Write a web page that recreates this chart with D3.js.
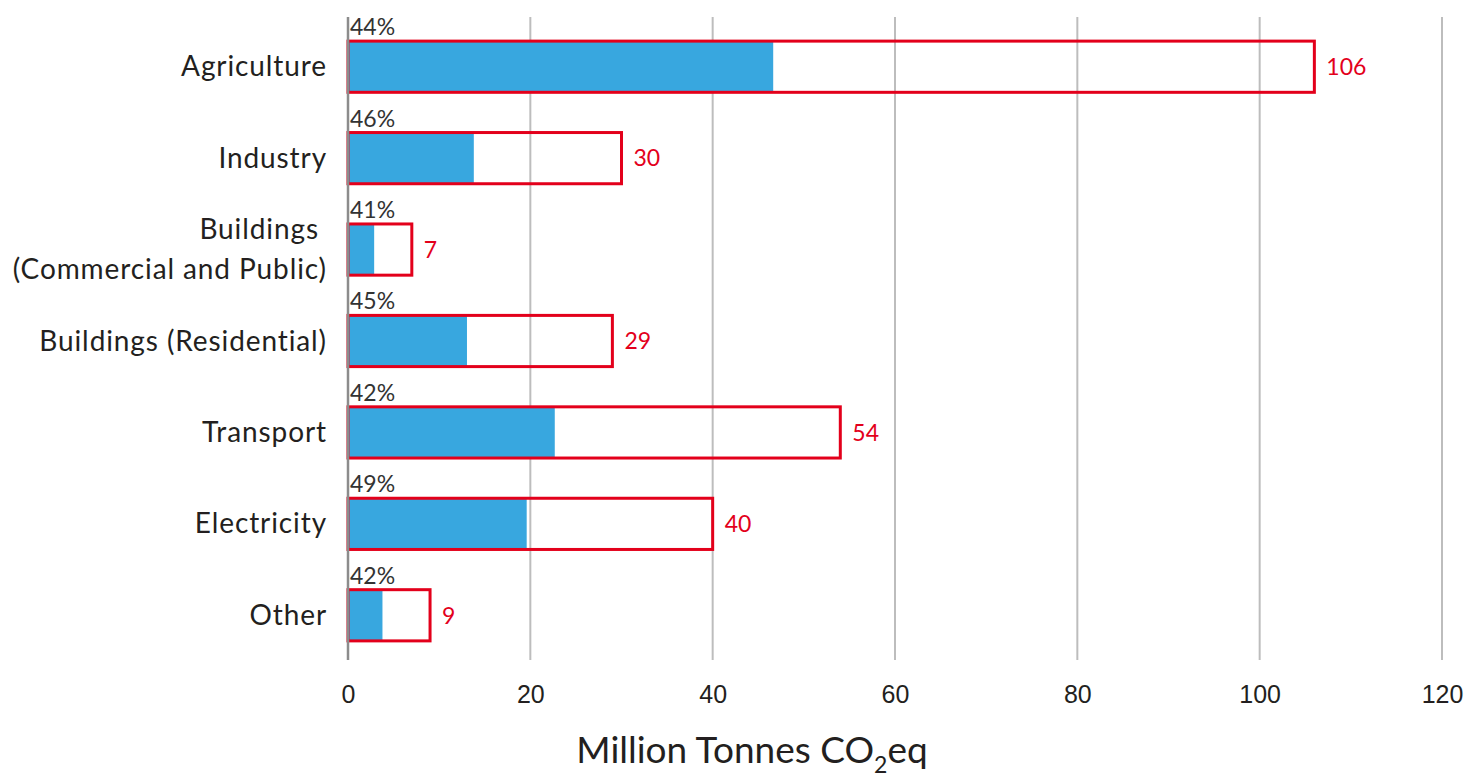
<!DOCTYPE html>
<html lang="en">
<head>
    <meta charset="utf-8">
    <title>Emissions by sector</title>
    <script src="https://d3js.org/d3.v7.min.js"></script>
    <style type="text/css">
        body{
            margin: 0;
            background: #fff;
        }
        svg{
            font-family: Lato, "Noto Sans", sans-serif;
        }
        .cat{
            font-size: 28px;
            letter-spacing: 0.9px;
            fill: #231f20;
        }
        .pct{
            font-size: 23px;
            fill: #333;
        }
        .val{
            font-size: 23px;
            fill: #e3001b;
        }
        .tick text{
            font-size: 25px;
            fill: #231f20;
        }
    </style>
</head>
<body>
    <svg id="chart" width="1471" height="777"></svg>

    <script type="text/javascript">

        const sectors = [["Agriculture"], ["Industry"], ["Buildings\u00a0", "(Commercial and Public)"],
                         ["Buildings (Residential)"], ["Transport"], ["Electricity"], ["Other"]]
        const totals = [106, 30, 7, 29, 54, 40, 9]
        const shares = [44, 46, 41, 45, 42, 49, 42]
        const xTicks = [0, 20, 40, 60, 80, 100, 120]

        const data = sectors.map((s, i) => ({
            name: s, key: i, total: totals[i], share: shares[i]
        }))

        const svg = d3.select("#chart")

        const x = d3.scaleLinear()
            .domain([0, 120])
            .range([348, 1442])

        const y = d3.scaleBand()
            .domain(data.map(d => d.key))
            .range([21, 661])
            .paddingInner(0.44)
            .paddingOuter(0.22)

        // grid
        svg.append("g")
            .selectAll("line")
            .data(xTicks.slice(1))
            .enter()
            .append("line")
            .attr("x1", d => x(d))
            .attr("x2", d => x(d))
            .attr("y1", 17)
            .attr("y2", 660)
            .attr("stroke", "#bdbdbd")
            .attr("stroke-width", 2)

        // tick labels
        const axis = svg.append("g")
            .attr("transform", "translate(0,660)")
            .call(d3.axisBottom(x).tickValues(xTicks).tickSize(0).tickPadding(25))
        axis.select(".domain").remove()
        axis.selectAll("text").attr("font-family", null).attr("font-size", null)

        // filled part
        svg.append("g")
            .selectAll("rect")
            .data(data)
            .enter()
            .append("rect")
            .attr("x", x(0))
            .attr("y", d => y(d.key))
            .attr("width", d => x(d.total * d.share / 100) - x(0))
            .attr("height", y.bandwidth())
            .attr("fill", "#38a7df")

        // outline of total
        svg.append("g")
            .selectAll("rect")
            .data(data)
            .enter()
            .append("rect")
            .attr("x", x(0))
            .attr("y", d => y(d.key))
            .attr("width", d => x(d.total) - x(0))
            .attr("height", y.bandwidth())
            .attr("fill", "none")
            .attr("stroke", "#e3001b")
            .attr("stroke-width", 3)

        // zero line
        svg.append("line")
            .attr("x1", x(0))
            .attr("x2", x(0))
            .attr("y1", 17)
            .attr("y2", 660)
            .attr("stroke", "#8c8c8c")
            .attr("stroke-width", 2.5)

        // percent labels
        svg.append("g")
            .selectAll("text")
            .data(data)
            .enter()
            .append("text")
            .attr("class", "pct")
            .attr("x", x(0) + 2)
            .attr("y", d => y(d.key) - 6)
            .text(d => d.share + "%")

        // total labels
        svg.append("g")
            .selectAll("text")
            .data(data)
            .enter()
            .append("text")
            .attr("class", "val")
            .attr("x", d => x(d.total) + 12)
            .attr("y", d => y(d.key) + y.bandwidth() / 2)
            .attr("dy", "0.36em")
            .text(d => d.total)

        // category labels
        const cats = svg.append("g")
            .selectAll("text")
            .data(data)
            .enter()
            .append("text")
            .attr("class", "cat")
            .attr("text-anchor", "end")
            .attr("x", 327)
            .attr("y", d => y(d.key) + y.bandwidth() / 2)

        cats.selectAll("tspan")
            .data(d => d.name.map((t, j) => ({t: t, j: j, n: d.name.length})))
            .enter()
            .append("tspan")
            .attr("x", 327)
            .attr("dy", d => d.j == 0 ? (0.34 - (d.n - 1) * 0.72) + "em" : "1.44em")
            .text(d => d.t)

        // axis title
        const title = svg.append("text")
            .attr("x", 752)
            .attr("y", 763)
            .attr("text-anchor", "middle")
            .attr("font-size", 37)
            .attr("fill", "#231f20")
        title.append("tspan").text("Million Tonnes CO")
        title.append("tspan").attr("font-size", 23).attr("dy", 10).text("2")
        title.append("tspan").attr("dy", -10).text("eq")
    </script>
</body>
</html>
